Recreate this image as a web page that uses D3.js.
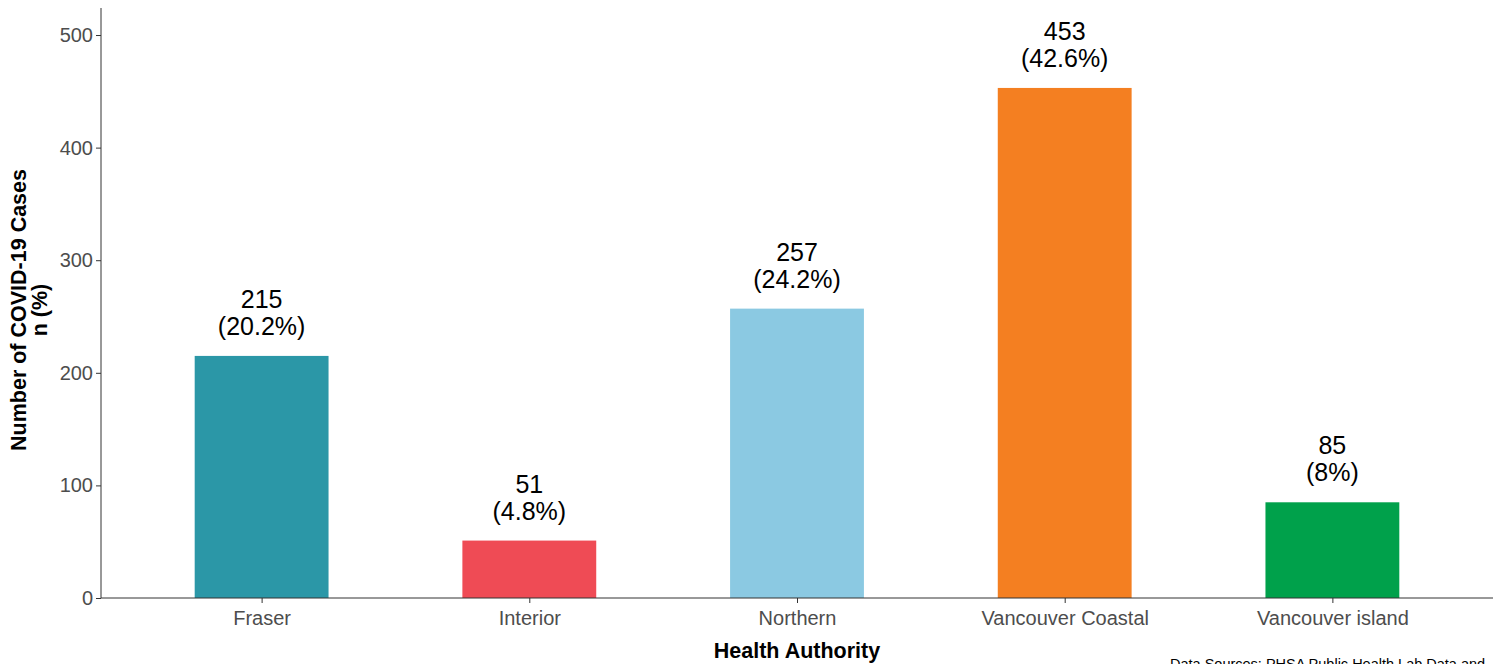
<!DOCTYPE html>
<html><head><meta charset="utf-8">
<script src="https://cdn.jsdelivr.net/npm/d3@7"></script>
<style>body{margin:0;background:#fff;}svg{display:block;font-family:Arial,"Liberation Sans",sans-serif;}</style>
</head><body>
<svg id="c" width="1497" height="664"></svg>
<script>
const categories = ["Fraser","Interior","Northern","Vancouver Coastal","Vancouver island"];
const cases = [215, 51, 257, 453, 85];
const percents = ["20.2%","4.8%","24.2%","42.6%","8%"];
const colors = ["#2B97A7","#EF4B55","#8BC9E2","#F47F21","#00A14B"];
const yTicks = [0,100,200,300,400,500];

(function(){
const svg = d3.select("#c");
const mL = 101, mR = 1493, mT = 8, mB = 598;
const x = d3.scaleLinear().domain([0.4, 5.6]).range([mL, mR]);
const y = d3.scaleLinear().domain([0, 524]).range([mB, mT]);
const bw = x(1.25) - x(0.75);
const FF = "Arial,'Liberation Sans',sans-serif";

const data = categories.map((c,i)=>({c, v:cases[i], p:percents[i], col:colors[i], i:i+1}));

svg.selectAll("rect.bar").data(data).enter().append("rect")
  .attr("x", d=>x(d.i)-bw/2).attr("width", bw)
  .attr("y", d=>y(d.v)).attr("height", d=>y(0)-y(d.v))
  .attr("fill", d=>d.col);

const lab = svg.selectAll("text.lab").data(data).enter().append("text")
  .attr("text-anchor","middle").attr("font-size",25).attr("fill","#000");
lab.append("tspan").attr("x", d=>x(d.i)).attr("y", d=>y(d.v)-48).text(d=>d.v);
lab.append("tspan").attr("x", d=>x(d.i)).attr("y", d=>y(d.v)-21).text(d=>"("+d.p+")");

const yAxis = svg.append("g").attr("transform",`translate(${mL},0)`)
  .call(d3.axisLeft(y).tickValues(yTicks).tickSize(5).tickPadding(3));
yAxis.select(".domain").attr("stroke","#333").attr("d",`M0,${mT}V${mB}`);
yAxis.selectAll(".tick line").attr("stroke","#333");
yAxis.selectAll(".tick text").attr("font-size",20).attr("fill","#4d4d4d").attr("font-family",FF);

const xAxis = svg.append("g").attr("transform",`translate(0,${mB})`)
  .call(d3.axisBottom(x).tickValues([1,2,3,4,5]).tickFormat(d=>categories[d-1]).tickSize(5).tickPadding(8));
xAxis.select(".domain").attr("stroke","#333").attr("d",`M${mL},0H${mR}`);
xAxis.selectAll(".tick line").attr("stroke","#333");
xAxis.selectAll(".tick text").attr("font-size",20).attr("fill","#4d4d4d").attr("font-family",FF);

svg.append("text").attr("x",(mL+mR)/2).attr("y",658).attr("text-anchor","middle")
  .attr("font-size",21.5).attr("font-weight","bold").attr("fill","#000").text("Health Authority");
const yt = svg.append("text").attr("transform","translate(0,310) rotate(-90)")
  .attr("text-anchor","middle").attr("font-size",21.5).attr("font-weight","bold").attr("fill","#000");
yt.append("tspan").attr("x",0).attr("y",26).text("Number of COVID-19 Cases");
yt.append("tspan").attr("x",0).attr("y",47).text("n (%)");

svg.append("text").attr("x",1170).attr("y",669).attr("font-size",14.5).attr("fill","#000")
  .text("Data Sources: PHSA Public Health Lab Data and");
})();
</script>
</body></html>
